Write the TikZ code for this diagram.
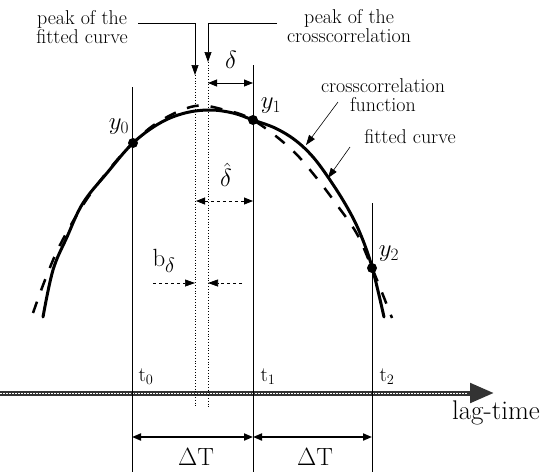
\documentclass[tikz,border=0pt]{standalone}
\usepackage{amsmath,amssymb}
\usepackage{tikz}
\usetikzlibrary{arrows.meta,calc}

\begin{document}
\begin{tikzpicture}[x=1pt,y=-1pt,
    lbl/.style={align=center,font=\fontsize{20}{17}\selectfont,inner sep=0pt},
    sym/.style={font=\fontsize{27}{27}\selectfont,inner sep=0pt},
    big/.style={font=\fontsize{31}{31}\selectfont,inner sep=0pt},
    tsym/.style={font=\fontsize{22}{22}\selectfont,inner sep=0pt},
    tip/.style={-{Triangle[length=10pt,width=7pt]}},
    dtip/.style={{Triangle[length=9pt,width=7pt]}-{Triangle[length=9pt,width=7pt]}}]
    \useasboundingbox (0,0) rectangle (548,472);

    % Axis
    \coordinate (ax0) at (0,393);
    \coordinate (ax1) at (494,393);
    \draw[line width=5pt,black!80,-{Triangle[length=24pt,width=19pt]}] (ax0) -- (ax1);
    \draw[line width=1pt,white,dash pattern=on 1.5pt off 1.5pt] (ax0) -- ($(ax1)+(-26,0)$);
    \node[font=\fontsize{27}{27}\selectfont,inner sep=0pt] (lag) at (496,413) {lag-time};

    % Sampling lines
    \coordinate (t0top) at (132,87);
    \coordinate (t0bot) at (132,472);
    \coordinate (t1top) at (253,65);
    \coordinate (t1bot) at (253,472);
    \coordinate (t2top) at (372,203);
    \coordinate (t2bot) at (372,472);
    \draw[line width=0.8pt] (t0top) -- (t0bot);
    \draw[line width=0.8pt] (t1top) -- (t1bot);
    \draw[line width=0.8pt] (t2top) -- (t2bot);
    \node[tsym] (t0) at (146,377) {$\mathrm{t}_0$};
    \node[tsym] (t1) at (268,377) {$\mathrm{t}_1$};
    \node[tsym] (t2) at (387,377) {$\mathrm{t}_2$};

    % Peaks
    \coordinate (pf) at (195,75);
    \coordinate (pfbot) at (195,407);
    \coordinate (pc) at (208,62);
    \coordinate (pcbot) at (208,407);
    \coordinate (lf) at (138,23);
    \coordinate (lc) at (277,23);
    \draw[dotted,line width=0.8pt] (pf) -- (pfbot);
    \draw[dotted,line width=0.8pt] (pc) -- (pcbot);
    \draw[line width=0.7pt,tip] (lf) -| (pf);
    \draw[line width=0.7pt,tip] (lc) -| (pc);
    \node[lbl] (fitlbl) at (82,27) {peak of the\\fitted curve};
    \node[lbl] (crslbl) at (349,26) {peak of the\\crosscorrelation};

    % Crosscorrelation function
    \draw[line width=3pt,line cap=round] plot[smooth,tension=0.6] coordinates {
      (43,317) (53,270) (67,237) (83,203) (107,173) (133,143) (160,123)
      (185,113) (210,110) (233,113) (253,120) (275,128) (295,140)
      (313,157) (330,180) (347,207) (360,233) (372,267) (384,317)};

    % Fitted curve
    \draw[line width=2.5pt,dash pattern=on 12pt off 12pt] plot[smooth,tension=0.6] coordinates {
      (33,313) (45,280) (60,245) (83,205) (107,172) (133,143) (160,121)
      (195,106) (225,110) (253,120) (290,148) (315,176) (337,205)
      (357,234) (372,268) (381,290) (392,318)};

    % Samples
    \coordinate (s0) at (133,143);
    \coordinate (s1) at (253,120);
    \coordinate (s2) at (372,268);
    \fill (s0) circle (5pt);
    \fill (s1) circle (5pt);
    \fill (s2) circle (5pt);
    \node[sym] (y0) at (119,127) {$y_0$};
    \node[sym] (y1) at (271,106) {$y_1$};
    \node[sym] (y2) at (389,254) {$y_2$};

    % Curve labels
    \node[lbl,font=\fontsize{20}{19}\selectfont] (cflbl) at (383,95) {crosscorrelation\\function};
    \node[lbl] (fclbl) at (410,137) {fitted curve};
    \coordinate (cfa) at (338,102);
    \coordinate (cfb) at (306,145);
    \coordinate (fca) at (350,147);
    \coordinate (fcb) at (328,178);
    \draw[line width=0.6pt,tip] (cfa) -- (cfb);
    \draw[line width=0.6pt,tip] (fca) -- (fcb);

    % Offsets
    \coordinate (da) at (208,83);
    \coordinate (db) at (253,83);
    \draw[line width=0.8pt,dtip] (da) -- (db);
    \node[big] (dl) at (231,60) {$\delta$};
    \coordinate (ha) at (196,201);
    \coordinate (hb) at (253,201);
    \draw[line width=0.8pt,dashed,dtip] (ha) -- (hb);
    \node[big] (hl) at (226,175) {$\hat{\delta}$};
    \coordinate (ba) at (153,283);
    \coordinate (bb) at (195,283);
    \coordinate (bc) at (242,283);
    \coordinate (bd) at (208,283);
    \draw[line width=0.7pt,dashed,tip] (ba) -- (bb);
    \draw[line width=0.7pt,dashed,tip] (bc) -- (bd);
    \node[big] (bl) at (164,261) {$\mathrm{b}_\delta$};

    % Sampling interval
    \coordinate (d0) at (132,437);
    \coordinate (d1) at (253,437);
    \coordinate (d2) at (372,437);
    \draw[line width=1.8pt,dtip] (d0) -- (d1);
    \draw[line width=1.8pt,dtip] (d1) -- (d2);
    \node[sym] (dt0) at (196,457) {$\Delta\mathrm{T}$};
    \node[sym] (dt1) at (315,457) {$\Delta\mathrm{T}$};
  \end{tikzpicture}
\end{document}
